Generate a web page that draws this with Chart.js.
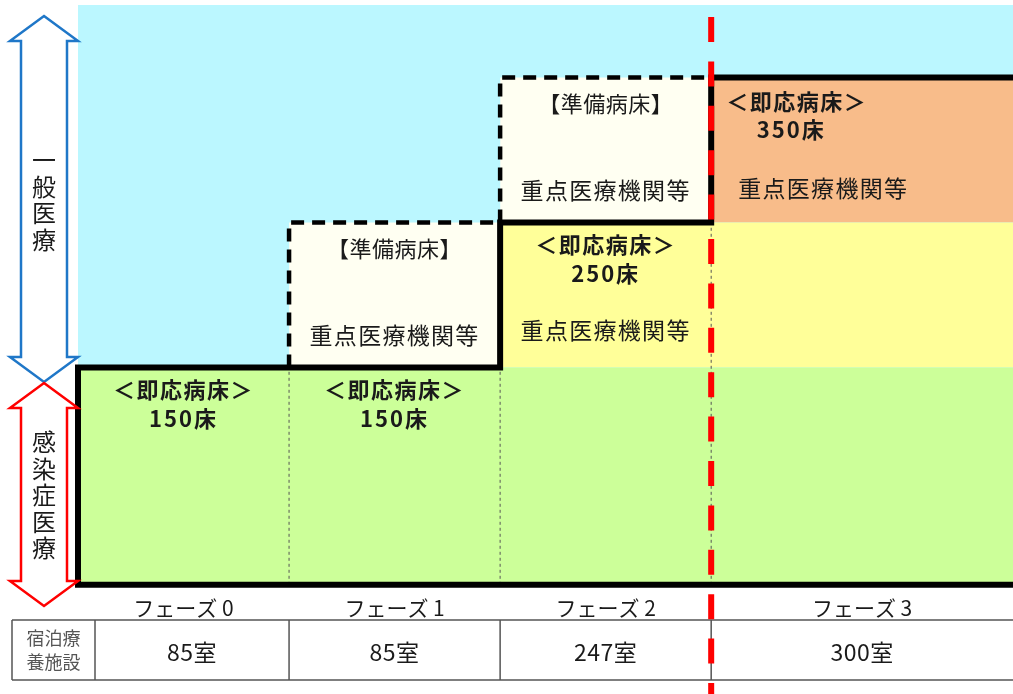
<!DOCTYPE html>
<html lang="ja">
<head>
<meta charset="utf-8">
<title>フェーズ別 病床確保計画</title>
<script src="https://cdn.jsdelivr.net/npm/chart.js@4.4.1/dist/chart.umd.min.js"></script>
<style>
  html, body { margin: 0; padding: 0; background: #fff; }
  #wrap { width: 1013px; height: 694px; position: relative; }
</style>
</head>
<body>
<div id="wrap"><canvas id="bedChart"></canvas></div>
<script>
// Data
const phases = ["フェーズ 0", "フェーズ 1", "フェーズ 2", "フェーズ 3"];
const instantBeds = [150, 150, 250, 350];   // 即応病床
const prepBeds = [0, 100, 100, 0];          // 準備病床 (on top of instant)
const hotelRooms = [85, 85, 247, 300];      // 宿泊療養施設
const hospitalNote = [false, false, true, true];
const thresholdPhase = 3;

const X_MAX = 4.43; // last phase column is wider
const tierColors = ["#CCFF99", "#FFFF99", "#F8BC8A"];
const FONT = "'Noto Sans CJK JP', 'Noto Sans', sans-serif";
Chart.defaults.font.family = FONT;

const colEnd = (i) => (i === phases.length - 1 ? X_MAX : i + 1);

// Datasets
const datasets = [];

// colour tiers (green / yellow / orange)
const levels = [...new Set(instantBeds)].sort((a, b) => a - b);
levels.forEach((lv, k) => {
  const start = instantBeds.findIndex((b) => b >= lv);
  datasets.push({
    data: [{ x: start, y: lv }, { x: X_MAX, y: lv }],
    fill: { value: k ? levels[k - 1] : 0 },
    backgroundColor: tierColors[k],
    borderWidth: 0,
    order: 10,
  });
});

// preparation beds boxes (dashed)
instantBeds.forEach((b, i) => {
  if (!prepBeds[i]) return;
  const top = b + prepBeds[i];
  datasets.push({
    data: [{ x: i, y: b }, { x: i, y: top }, { x: colEnd(i), y: top }],
    fill: { value: b },
    backgroundColor: "#FFFFF2",
    borderColor: "#000",
    borderWidth: 4.5,
    borderDash: [13, 8],
    order: 8,
  });
});

// thin dotted phase dividers
for (let i = 1; i < phases.length; i++) {
  datasets.push({
    data: [{ x: i, y: 0 }, { x: i, y: Math.min(instantBeds[i - 1], instantBeds[i]) }],
    borderColor: "#555",
    borderWidth: 1,
    borderDash: [3, 3],
    order: 6,
  });
}

// thick step outline
const steps = [{ x: X_MAX, y: 0 }, { x: 0, y: 0 }];
instantBeds.forEach((b, i) => {
  steps.push({ x: i, y: b }, { x: colEnd(i), y: b });
});
datasets.push({
  data: steps,
  borderColor: "#000",
  borderWidth: 6,
  borderJoinStyle: "miter",
  clip: false,
  order: 1,
});

// Plugins
const bgPlugin = {
  id: "bg",
  beforeDatasetsDraw(chart) {
    const { ctx, chartArea: a } = chart;
    ctx.save();
    ctx.fillStyle = "#BBF7FF";
    ctx.fillRect(a.left, a.top, a.right - a.left, a.bottom - a.top);
    ctx.restore();
  },
};

function text(ctx, str, x, y, font, align, color, spacing) {
  ctx.font = font;
  ctx.letterSpacing = (spacing || 0) + "px";
  ctx.textAlign = align || "center";
  ctx.textBaseline = "middle";
  ctx.fillStyle = color || "#1a1a1a";
  ctx.fillText(str, x, y);
}

function doubleArrow(ctx, top, bottom, color) {
  const cx = 44, hw = 34, sw = 23, hh = 25;
  ctx.beginPath();
  ctx.moveTo(cx, top);
  ctx.lineTo(cx + hw, top + hh);
  ctx.lineTo(cx + sw, top + hh);
  ctx.lineTo(cx + sw, bottom - hh);
  ctx.lineTo(cx + hw, bottom - hh);
  ctx.lineTo(cx, bottom);
  ctx.lineTo(cx - hw, bottom - hh);
  ctx.lineTo(cx - sw, bottom - hh);
  ctx.lineTo(cx - sw, top + hh);
  ctx.lineTo(cx - hw, top + hh);
  ctx.closePath();
  ctx.fillStyle = "#fff";
  ctx.fill();
  ctx.lineWidth = 2.5;
  ctx.strokeStyle = color;
  ctx.stroke();
}

const decorPlugin = {
  id: "decor",
  afterDraw(chart) {
    const { ctx } = chart;
    const xs = chart.scales.x, ys = chart.scales.y;
    const X = (v) => xs.getPixelForValue(v);
    const Y = (v) => ys.getPixelForValue(v);
    const bold = "bold 22px " + FONT;
    const reg = "23px " + FONT;
    ctx.save();

    // box labels
    instantBeds.forEach((b, i) => {
      const l = X(i), r = X(colEnd(i)), cx = (l + r) / 2;
      const top = Y(b);
      if (i === phases.length - 1) {
        text(ctx, "＜即応病床＞", l + 15, top + 24, bold, "left", null, 1.5);
        text(ctx, b + "床", l + 80, top + 52, bold, "center", null, 2);
        if (hospitalNote[i]) text(ctx, "重点医療機関等", l + 27, top + 111, reg, "left", null, 1.3);
      } else {
        text(ctx, "＜即応病床＞", cx, top + 22, bold, "center", null, 1.5);
        text(ctx, b + "床", cx, top + 51, bold, "center", null, 2);
        if (hospitalNote[i]) text(ctx, "重点医療機関等", cx, top + 108, reg, "center", null, 1.3);
      }
      if (prepBeds[i]) {
        const ptop = Y(b + prepBeds[i]);
        text(ctx, "【準備病床】", cx, ptop + 26, "22px " + FONT, "center", null, 0.5);
        text(ctx, "重点医療機関等", cx, ptop + 113, reg, "center", null, 1.3);
      }
    });

    // hotel table
    const tTop = 620, tBot = 680, tLeft = 12, headR = 95;
    ctx.strokeStyle = "#555";
    ctx.lineWidth = 1.5;
    ctx.beginPath();
    ctx.moveTo(tLeft, tTop); ctx.lineTo(chart.width, tTop);
    ctx.moveTo(tLeft, tBot); ctx.lineTo(chart.width, tBot);
    [tLeft, headR, X(1), X(2), X(3)].forEach((x) => {
      ctx.moveTo(x, tTop); ctx.lineTo(x, tBot);
    });
    ctx.stroke();
    text(ctx, "宿泊療", (tLeft + headR) / 2, 638, "18px " + FONT, "center", "#555");
    text(ctx, "養施設", (tLeft + headR) / 2, 662, "18px " + FONT, "center", "#555");
    hotelRooms.forEach((n, i) => {
      const l = i === 0 ? headR : X(i), r = X(colEnd(i));
      text(ctx, n + "室", (l + r) / 2, 652, "23px " + FONT, "center", null, 0.5);
    });

    // left arrows
    doubleArrow(ctx, 16, 382, "#1F77C8");
    doubleArrow(ctx, 383, 606, "#FF0000");
    ["一", "般", "医", "療"].forEach((c, k) => text(ctx, c, 44, 160 + k * 26.5, "24px " + FONT));
    ["感", "染", "症", "医", "療"].forEach((c, k) => text(ctx, c, 44, 442 + k * 26.5, "24px " + FONT));

    // red threshold line
    const rx = X(thresholdPhase);
    ctx.setLineDash([25, 19.4]);
    ctx.strokeStyle = "#FF0000";
    ctx.lineWidth = 6;
    ctx.beginPath();
    ctx.moveTo(rx, 17);
    ctx.lineTo(rx, chart.height);
    ctx.stroke();
    ctx.restore();
  },
};

// Chart
new Chart(document.getElementById("bedChart"), {
  type: "scatter",
  data: { datasets },
  options: {
    responsive: true,
    maintainAspectRatio: false,
    animation: false,
    showLine: true,
    elements: { point: { radius: 0, hoverRadius: 0 }, line: { tension: 0 } },
    layout: { padding: { left: 78, top: 5, right: 0, bottom: 62 } },
    plugins: { legend: { display: false }, tooltip: { enabled: false } },
    scales: {
      x: {
        type: "linear",
        min: 0,
        max: X_MAX,
        grid: { display: false, drawTicks: false },
        border: { display: false },
        afterBuildTicks: (scale) => {
          scale.ticks = phases.map((p, i) => ({ value: (i + colEnd(i)) / 2 }));
        },
        ticks: {
          autoSkip: false,
          maxRotation: 0,
          padding: 11,
          color: "#1a1a1a",
          font: { size: 21 },
          callback: (v, idx) => phases[idx],
        },
      },
      y: { min: 0, max: 400, display: false },
    },
  },
  plugins: [bgPlugin, decorPlugin],
});
</script>
</body>
</html>
